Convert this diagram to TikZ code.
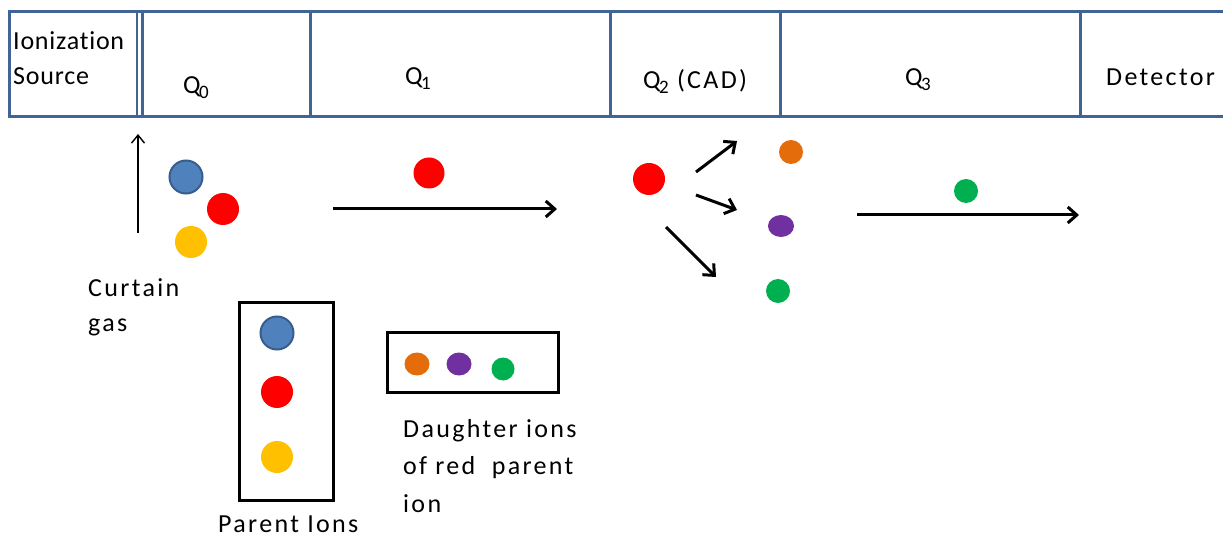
\documentclass[tikz,border=0pt]{standalone}
\usepackage{fontspec}
\setmainfont{Carlito}[LetterSpace=9, Ligatures={NoCommon,NoRequired,NoContextual}]
\newfontfamily\tightfont{Carlito}[LetterSpace=3, Ligatures={NoCommon,NoRequired,NoContextual}]
\usetikzlibrary{arrows.meta,shapes.geometric}
\definecolor{barblue}{RGB}{65,100,150}
\definecolor{ionblue}{RGB}{79,129,189}
\definecolor{ionblueline}{RGB}{56,93,138}
\definecolor{ionred}{RGB}{255,0,0}
\definecolor{ionyellow}{RGB}{255,192,0}
\definecolor{ionorange}{RGB}{228,108,10}
\definecolor{ionpurple}{RGB}{112,48,160}
\definecolor{iongreen}{RGB}{0,176,80}
\newcommand\subs[1]{\kern-1.5pt\raisebox{-5pt}{\fontsize{19}{19}\selectfont #1}}
\tikzset{
  lbl/.style={font=\fontsize{26}{30}\selectfont, inner sep=0pt, anchor=base west},
  bar/.style={draw=barblue, line width=3pt},
  barthin/.style={draw=barblue, line width=2.2pt},
  bigion/.style={circle, inner sep=0pt, minimum size=32pt},
  smallion/.style={circle, inner sep=0pt, minimum size=24pt},
  blueion/.style={bigion, fill=ionblue, draw=ionblueline, line width=2pt, minimum size=33pt},
  flow/.style={line width=3pt, -{Straight Barb[length=9pt,width=16pt,line width=3pt]}},
  thinflow/.style={line width=1.4pt, -{Straight Barb[length=8pt,width=13pt,line width=1.4pt]}},
  framebox/.style={draw=black, line width=3pt}
}
\begin{document}
\begin{tikzpicture}[x=1pt,y=-1pt]
\useasboundingbox (0,0) rectangle (1223,537);
\fill[white] (0,0) rectangle (1223,537);
% top bar
\begin{scope}
\clip (0,0) rectangle (1223,537);
\draw[bar] (9,11.5) rectangle (1240,116.5);
\end{scope}
\draw[barthin] (137,11.5) -- (137,116.5);
\draw[barthin] (142.5,11.5) -- (142.5,116.5);
\draw[bar] (310,11.5) -- (310,116.5);
\draw[bar] (610,11.5) -- (610,116.5);
\draw[bar] (780,11.5) -- (780,116.5);
\draw[bar] (1080,11.5) -- (1080,116.5);
% bar labels
\node[lbl] (ion1) at (13,50) {\tightfont Ionization};
\node[lbl] (ion2) at (13,85) {\tightfont Source};
\node[lbl] (q0) at (183,94) {Q\subs{0}};
\node[lbl] (q1) at (405,85) {Q\subs{1}};
\node[lbl] (q2) at (643,89) {Q\subs{2} (CAD)};
\node[lbl] (q3) at (905,86) {Q\subs{3}};
\node[lbl] (det) at (1106,86) {Detector};
% curtain gas
\coordinate (cg0) at (138,233);
\coordinate (cg1) at (138,134);
\draw[thinflow] (cg0) -- (cg1);
\node[lbl] (cur1) at (88,296) {Curtain};
\node[lbl] (cur2) at (88,331) {gas};
% Q0 ions
\node[blueion] (b0) at (186,177) {};
\node[bigion, fill=ionred] (r0) at (223,209) {};
\node[bigion, fill=ionyellow] (y0) at (191,242) {};
% Q1
\node[bigion, fill=ionred, minimum size=31pt] (r1) at (429,173) {};
\coordinate (a1s) at (333,209);
\coordinate (a1e) at (557,209);
\draw[flow] (a1s) -- (a1e);
% Q2
\node[bigion, fill=ionred] (r2) at (649,179) {};
\coordinate (f1s) at (696,172);
\coordinate (f1e) at (737,141);
\coordinate (f2s) at (696,195);
\coordinate (f2e) at (737,210);
\coordinate (f3s) at (666,227);
\coordinate (f3e) at (716,277);
\draw[flow] (f1s) -- (f1e);
\draw[flow] (f2s) -- (f2e);
\draw[flow] (f3s) -- (f3e);
\node[smallion, fill=ionorange] (o2) at (791,152) {};
\node[ellipse, inner sep=0pt, minimum width=26pt, minimum height=22pt, fill=ionpurple] (p2) at (781,226) {};
\node[smallion, fill=iongreen] (g2) at (778,291) {};
% Q3
\node[smallion, fill=iongreen] (g3) at (966,191) {};
\coordinate (a3s) at (857,215);
\coordinate (a3e) at (1079,215);
\draw[flow] (a3s) -- (a3e);
% legend: parent ions
\node[framebox, minimum width=94pt, minimum height=198pt, inner sep=0pt] (pbox) at (286,401) {};
\node[blueion] (lb) at (277,333) {};
\node[bigion, fill=ionred] (lr) at (277,392) {};
\node[bigion, fill=ionyellow] (ly) at (277,457) {};
\node[lbl] (plbl) at (218,532.5) {Parent Ions};
% legend: daughter ions
\node[framebox, minimum width=171pt, minimum height=60pt, inner sep=0pt] (dbox) at (472.5,362) {};
\node[ellipse, inner sep=0pt, minimum width=25pt, minimum height=23pt, fill=ionorange] (lo) at (417,364) {};
\node[ellipse, inner sep=0pt, minimum width=25pt, minimum height=23pt, fill=ionpurple] (lp) at (459,364) {};
\node[smallion, fill=iongreen, minimum size=23pt] (lg) at (503,369) {};
\node[lbl] (d1) at (403,437) {Daughter ions};
\node[lbl] (d2) at (403,474) {of red\ \ parent};
\node[lbl] (d3) at (403,512) {ion};
\end{tikzpicture}
\end{document}
